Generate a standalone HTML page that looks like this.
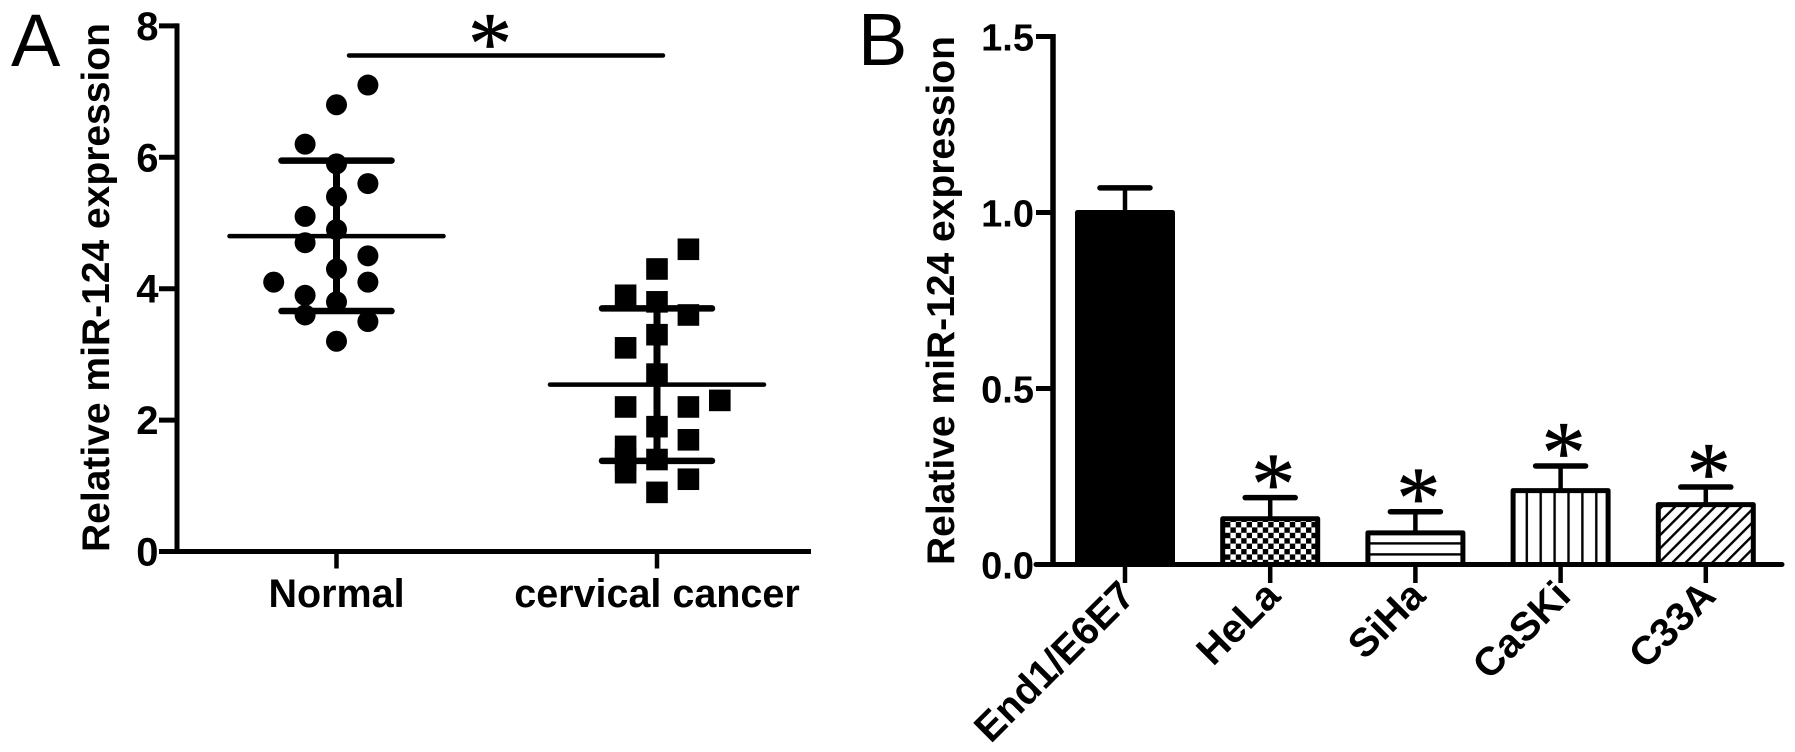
<!DOCTYPE html>
<html lang="en">
<head>
<meta charset="utf-8">
<title>miR-124 expression</title>
<style>
html,body{margin:0;padding:0;background:#fff;width:1795px;height:752px;overflow:hidden}
svg{display:block}
text{font-family:"Liberation Sans",Arial,sans-serif;fill:#000}
.b{font-weight:700}
.star{font-family:"Liberation Serif","Times New Roman",serif;font-size:88px;text-anchor:middle;stroke:#000;stroke-width:0.7px}
</style>
</head>
<body>
<svg id="fig" xmlns="http://www.w3.org/2000/svg" width="1795" height="752" viewBox="0 0 1795 752">
  <defs>
    <pattern id="pat-check" patternUnits="userSpaceOnUse" width="10.8" height="10.8" x="1225" y="522">
      <rect x="0" y="0" width="5.4" height="5.4" fill="#000"/>
      <rect x="5.4" y="5.4" width="5.4" height="5.4" fill="#000"/>
    </pattern>
    <pattern id="pat-horiz" patternUnits="userSpaceOnUse" width="10" height="11" x="0" y="538">
      <rect x="0" y="4.2" width="10" height="2.4" fill="#000"/>
    </pattern>
    <pattern id="pat-vert" patternUnits="userSpaceOnUse" width="13.9" height="10" x="1520" y="0">
      <rect x="5.6" y="0" width="2.4" height="10" fill="#000"/>
    </pattern>
    <pattern id="pat-diag" patternUnits="userSpaceOnUse" width="9.4" height="9.4" patternTransform="rotate(45)">
      <rect x="0" y="0" width="2.4" height="9.4" fill="#000"/>
    </pattern>
  </defs>
  <text x="11" y="66" font-size="74">A</text>
  <text x="858" y="65" font-size="74">B</text>
  <text class="b" transform="translate(109 552) rotate(-90)" font-size="39">Relative miR-124 expression</text>
  <text class="b" transform="translate(954 565) rotate(-90)" font-size="39">Relative miR-124 expression</text>
  <g id="panelA"></g>
  <g id="panelB"></g>
</svg>
<script>
/* Panel A data */
const categoriesA = ["Normal", "cervical cancer"];
const normalValues = [7.1, 6.8, 6.2, 5.9, 5.6, 5.4, 5.1, 4.9, 4.7, 4.5, 4.3, 4.1, 4.1, 3.9, 3.8, 3.6, 3.5, 3.2];
const normalSlots = [1, 0, -1, 0, 1, 0, -1, 0, -1, 1, 0, -2, 1, -1, 0, -1, 1, 0];
const cancerValues = [4.6, 4.3, 3.9, 3.8, 3.6, 3.3, 3.1, 2.7, 2.3, 2.2, 2.2, 1.9, 1.7, 1.6, 1.4, 1.4, 1.2, 1.1, 0.9];
const cancerSlots = [1, 0, -1, 0, 1, 0, -1, 0, 2, -1, 1, 0, 1, -1, -1, 0, -1, 1, 0];
const meansA = [4.8, 2.54];
const upperA = [5.95, 3.7];
const lowerA = [3.66, 1.38];
const yTicksA = [0, 2, 4, 6, 8];
const sigBarValue = 7.55;

/* Panel B data */
const categoriesB = ["End1/E6E7", "HeLa", "SiHa", "CaSKi", "C33A"];
const barValues = [1.0, 0.13, 0.09, 0.21, 0.17];
const barTops = [1.07, 0.19, 0.15, 0.28, 0.22];
const barFills = ["#000", "url(#pat-check)", "url(#pat-horiz)", "url(#pat-vert)", "url(#pat-diag)"];
const barStars = [false, true, true, true, true];
const yTicksB = [0, 0.5, 1.0, 1.5];
const yTickLabelsB = ["0.0", "0.5", "1.0", "1.5"];

const NS = "http://www.w3.org/2000/svg";

/* axis functions */
function yA(v) { return 551.5 - 65.7 * v; }
function xA(i) { return 336.5 + 320.5 * i; }
function slotA(i, s) { return xA(i) + s * 31.4; }
function yB(v) { return 564.5 - 352 * v; }
function xB(i) { return 1125 + 145.2 * i; }

function line(parent, x1, y1, x2, y2, w, cap) {
  const l = document.createElementNS(NS, "line");
  l.setAttribute("x1", x1);
  l.setAttribute("y1", y1);
  l.setAttribute("x2", x2);
  l.setAttribute("y2", y2);
  l.setAttribute("stroke", "#000");
  l.setAttribute("stroke-width", w);
  l.setAttribute("stroke-linecap", cap || "butt");
  parent.appendChild(l);
  return l;
}
function label(parent, x, y, str, size, anchor) {
  const t = document.createElementNS(NS, "text");
  t.setAttribute("x", x);
  t.setAttribute("y", y);
  t.setAttribute("font-size", size);
  t.setAttribute("text-anchor", anchor);
  t.setAttribute("class", "b");
  t.textContent = str;
  parent.appendChild(t);
  return t;
}
function star(parent, cx, cy) {
  const t = document.createElementNS(NS, "text");
  t.setAttribute("class", "star");
  t.setAttribute("x", cx);
  t.setAttribute("y", cy + 41);
  t.textContent = "*";
  parent.appendChild(t);
  return t;
}

/* ---------- Panel A ---------- */
const A = document.getElementById("panelA");

const axisAY = line(A, 177, yA(8) - 2.5, 177, yA(0) + 2.5, 5);


const axisAX = line(A, 159, yA(0), 811, yA(0), 5);



yTicksA.forEach(function (v) {
  const tick = line(A, 159, yA(v), 177, yA(v), 5);
  
  
  const lab = label(A, 158.5, yA(v) + 14, String(v), 40, "end");
  
  
});

categoriesA.forEach(function (c, i) {
  const tick = line(A, xA(i), yA(0), xA(i), 568.5, 4.5);
  
  
  const lab = label(A, xA(i), 607, c, 39.5, "middle");
  
  
});

normalValues.forEach(function (v, k) {
  const d = document.createElementNS(NS, "circle");
  
  
  d.setAttribute("cx", slotA(0, normalSlots[k]));
  d.setAttribute("cy", yA(v));
  d.setAttribute("r", 10.5);
  d.setAttribute("fill", "#000");
  A.appendChild(d);
});

cancerValues.forEach(function (v, k) {
  const s = document.createElementNS(NS, "rect");
  
  
  s.setAttribute("x", slotA(1, cancerSlots[k]) - 10.8);
  s.setAttribute("y", yA(v) - 10.8);
  s.setAttribute("width", 21.6);
  s.setAttribute("height", 21.6);
  s.setAttribute("fill", "#000");
  A.appendChild(s);
});

categoriesA.forEach(function (c, i) {
  const stem = line(A, xA(i), yA(upperA[i]), xA(i), yA(lowerA[i]), 7);
  
  
  const mean = line(A, xA(i) - 107, yA(meansA[i]), xA(i) + 107, yA(meansA[i]), 4.5, "round");
  
  
  const up = line(A, xA(i) - 55, yA(upperA[i]), xA(i) + 55, yA(upperA[i]), 6.5, "round");
  
  
  const lo = line(A, xA(i) - 55, yA(lowerA[i]), xA(i) + 55, yA(lowerA[i]), 6.5, "round");
  
  
});

const sigBar = line(A, 349, yA(sigBarValue), 663, yA(sigBarValue), 4.5, "round");


const sigStar = star(A, 490, 32);



/* ---------- Panel B ---------- */
const B = document.getElementById("panelB");

categoriesB.forEach(function (c, i) {
  const cx = xB(i);
  const stem = line(B, cx, yB(barTops[i]), cx, yB(barValues[i]), 4.5);
  
  
  const cap = line(B, cx - 25, yB(barTops[i]), cx + 25, yB(barTops[i]), 5.5, "round");
  
  
  const bar = document.createElementNS(NS, "rect");
  
  
  bar.setAttribute("x", cx - 47.5);
  bar.setAttribute("y", yB(barValues[i]));
  bar.setAttribute("width", 95);
  bar.setAttribute("height", yB(0) - yB(barValues[i]));
  bar.setAttribute("fill", barFills[i]);
  bar.setAttribute("stroke", "#000");
  bar.setAttribute("stroke-width", 5);
  bar.setAttribute("stroke-linejoin", "round");
  B.appendChild(bar);
  if (barStars[i]) {
    const st = star(B, cx + 3, yB(barTops[i]) - 25);
    
    
  }
  const tick = line(B, cx, yB(0), cx, 583, 4.5);
  
  
  const lab = label(B, cx + 12, 598, c, 40, "end");
  
  
  lab.setAttribute("transform", "rotate(-45 " + (cx + 12) + " 598)");
});

const axisBY = line(B, 1053, yB(1.5) - 2.5, 1053, yB(0) + 2.5, 5.5);


const axisBX = line(B, 1036, yB(0), 1782, yB(0), 5, "round");



yTicksB.forEach(function (v, i) {
  const tick = line(B, 1036, yB(v), 1053, yB(v), 5);
  
  
  const lab = label(B, 1034, yB(v) + 14, yTickLabelsB[i], 38, "end");
  
  
});
</script>
</body>
</html>
